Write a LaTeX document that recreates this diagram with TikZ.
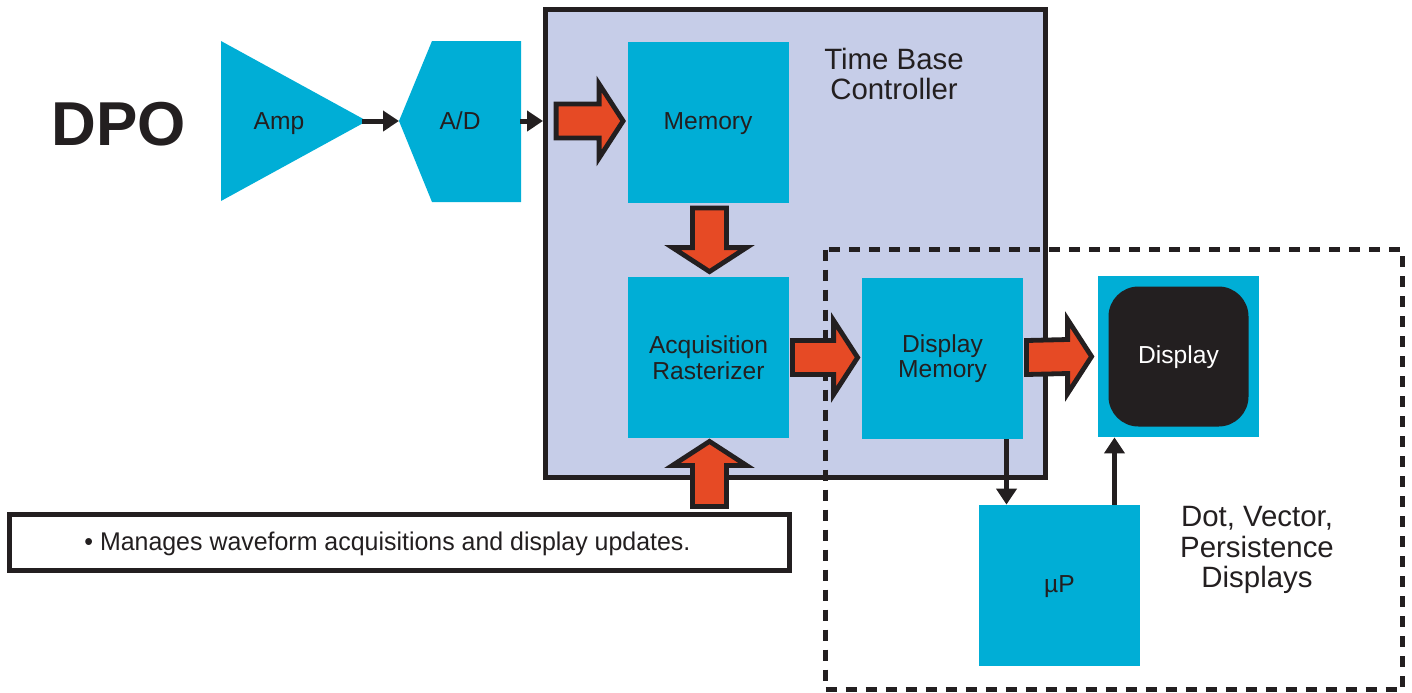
\documentclass[tikz,border=0pt]{standalone}
\usepackage{fontspec}
\setmainfont{Liberation Sans}
\usetikzlibrary{arrows.meta,calc}
\definecolor{cyanbox}{RGB}{0,174,214}
\definecolor{lav}{RGB}{198,205,232}
\definecolor{orng}{RGB}{230,74,37}
\definecolor{dark}{RGB}{35,31,32}
\tikzset{
  blk/.style={fill=cyanbox, draw=none, minimum width=80.5pt, minimum height=80.5pt,
    inner sep=0pt, align=center, text=dark, font=\fontsize{12.3}{12.8}\selectfont},
  oneline/.style={text height=0.716em, text depth=0pt},
  lbl/.style={inner sep=0pt, align=center, text=dark, font=\fontsize{12.3}{12.8}\selectfont},
  biglbl/.style={inner sep=0pt, align=center, text=dark, font=\fontsize{14.7}{15.4}\selectfont},
  arr/.style={draw=dark, line width=2.5pt, -{Triangle[length=8pt,width=10pt]}},
  fat/.style={fill=orng, draw=dark, line width=2.4pt, line join=miter},
  frame/.style={draw=dark, line width=2.5pt},
}
\newcommand\fatR[2]{\draw[fat] ($(#1)+(0,-17)$) -- ($(#2)+(-24,-17)$) -- ($(#2)+(-24,-37)$) -- (#2) -- ($(#2)+(-24,37)$) -- ($(#2)+(-24,17)$) -- ($(#1)+(0,17)$) -- cycle;}
\newcommand\fatD[2]{\draw[fat] ($(#1)+(-17,0)$) -- ($(#2)+(-17,-24)$) -- ($(#2)+(-37,-24)$) -- (#2) -- ($(#2)+(37,-24)$) -- ($(#2)+(17,-24)$) -- ($(#1)+(17,0)$) -- cycle;}
\newcommand\fatU[2]{\draw[fat] ($(#1)+(-17,0)$) -- ($(#2)+(-17,24)$) -- ($(#2)+(-37,24)$) -- (#2) -- ($(#2)+(37,24)$) -- ($(#2)+(17,24)$) -- ($(#1)+(17,0)$) -- cycle;}
\begin{document}
\begin{tikzpicture}[x=0.5pt,y=-0.5pt]
\useasboundingbox (0,0) rectangle (1412,692);
% title
\node[anchor=base, inner sep=0pt, text=dark, font=\fontsize{31}{33}\selectfont\bfseries] (dpo) at (118.5,145) {DPO};
% Amp and A/D shapes
\fill[cyanbox] (221,41) -- (367,121) -- (221,201) -- cycle;
\fill[cyanbox] (432,41) -- (521,41) -- (521,202) -- (432,202) -- (399,121) -- cycle;
\node[lbl, oneline] (amp) at (279,122) {Amp};
\node[lbl, oneline] (ad) at (460,122) {A/D};
\coordinate (amptip) at (362,121);
\coordinate (adtip) at (399,121);
\coordinate (adright) at (520,121);
% Time base controller frame
\node[frame, fill=lav, minimum width=250pt, minimum height=234pt, inner sep=0pt] (tbc) at (795.5,243.5) {};
\node[biglbl] (tbctext) at (894,74) {Time Base\\Controller};
% dashed display group
\draw[draw=dark, line width=2.5pt, dash pattern=on 5.5pt off 4.5pt] (825.5,249.5) rectangle (1402.5,689.5);
% blocks
\node[blk, oneline] (mem) at (708,122) {Memory};
\node[blk] (acq) at (708.5,357.5) {Acquisition\\Rasterizer};
\node[blk] (dm) at (942.5,358.5) {Display\\Memory};
\node[blk] (disp) at (1178.5,356.5) {};
\node[fill=dark, minimum width=70pt, minimum height=70pt, rounded corners=15pt, inner sep=0pt, oneline,
      text=white, font=\fontsize{12.3}{12.8}\selectfont] (dispin) at (disp.center) {Display};
\node[blk, oneline] (mup) at (1059.5,585.5) {µP};
\node[biglbl] (dvp) at (1257,550) {Dot, Vector,\\Persistence\\Displays};
% note
\node[frame, fill=white, minimum width=390pt, minimum height=28pt, inner sep=0pt] (note) at (399.5,542.5) {};
\node[anchor=base west, inner sep=0pt, text=dark, font=\fontsize{12.8}{13}\selectfont] (notetext) at (84,550)
  {\resizebox{303pt}{\height}{\textbullet\ Manages waveform acquisitions and display updates.}};
% thin arrows
\draw[arr] (amptip) -- (adtip);
\draw[arr] (adright) -- (adright -| tbc.west);
\draw[arr] ([xshift=32pt]dm.south) -- ([xshift=32pt]dm.south |- mup.north);
\draw[arr] ([xshift=-32pt]disp.south |- mup.north) -- ([xshift=-32pt]disp.south);
% fat arrows
\coordinate (f1s) at ($(mem.west)+(-71,-1)$);
\coordinate (f1t) at ($(mem.west)+(-4,-1)$);
\fatR{f1s}{f1t}
\coordinate (f2s) at ($(mem.south)+(1.5,5)$);
\coordinate (f2t) at ($(acq.north)+(1,-5)$);
\fatD{f2s}{f2t}
\coordinate (f3s) at ($(acq.east)+(3,0)$);
\coordinate (f3t) at ($(dm.west)+(-4,-1)$);
\fatR{f3s}{f3t}
\coordinate (f4s) at ($(dm.east)+(3,-1)$);
\coordinate (f4t) at ($(disp.west)+(-6,0)$);
\fatR{f4s}{f4t}
\coordinate (f5s) at ($(acq.south)+(1,68)$);
\coordinate (f5t) at ($(acq.south)+(1,3)$);
\fatU{f5s}{f5t}
\end{tikzpicture}
\end{document}
